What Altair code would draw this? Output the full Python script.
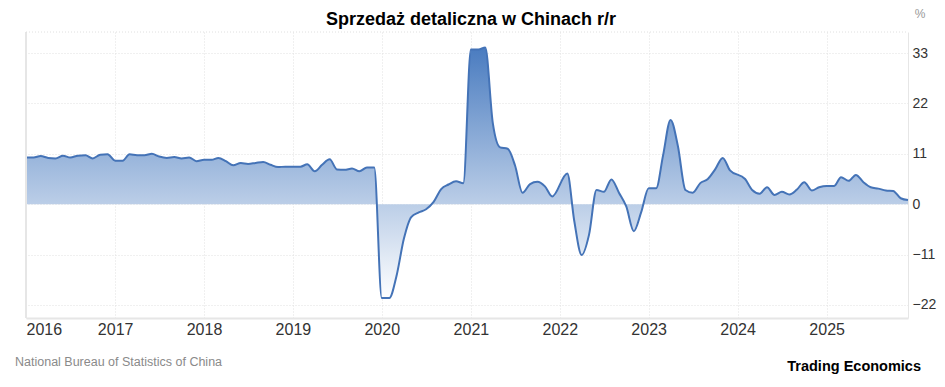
import altair as alt
import pandas as pd

TITLE = "Sprzedaż detaliczna w Chinach r/r"
SOURCE = "National Bureau of Statistics of China"
BRAND = "Trading Economics"
UNIT = "%"

years = list(range(2016, 2026))
# monthly values Jan..Dec (None = month not plotted)
v2016 = [10.2, 10.2, 10.5, 10.1, 10.0, 10.6, 10.2, 10.6, 10.7, 10.0, 10.8, 10.9]
v2017 = [9.5, 9.5, 10.9, 10.7, 10.7, 11.0, 10.4, 10.1, 10.3, 10.0, 10.2, 9.4]
v2018 = [9.7, 9.7, 10.1, 9.4, 8.5, 9.0, 8.8, 9.0, 9.2, 8.6, 8.1, 8.2]
v2019 = [8.2, 8.2, 8.7, 7.2, 8.6, 9.8, 7.6, 7.5, 7.8, 7.2, 8.0, 8.0]
v2020 = [-20.5, -20.5, -15.8, -7.5, -2.8, -1.8, -1.1, 0.5, 3.3, 4.3, 5.0, 4.6]
v2021 = [33.8, 33.8, 34.2, 17.7, 12.4, 12.1, 8.5, 2.5, 4.4, 4.9, 3.9, 1.7]
v2022 = [None, 6.7, -3.5, -11.1, -6.7, 3.1, 2.7, 5.4, 2.5, -0.5, -5.9, -1.8]
v2023 = [3.5, 3.5, 10.6, 18.4, 12.7, 3.1, 2.5, 4.6, 5.5, 7.6, 10.1, 7.4]
v2024 = [None, 5.5, 3.1, 2.3, 3.7, 2.0, 2.7, 2.1, 3.2, 4.8, 3.0, 3.7]
v2025 = [4.0, 4.0, 5.9, 5.1, 6.4, 4.8, 3.7, 3.4, 3.0, 2.9, 1.3, 0.9]
y_ticks = [-22, -11, 0, 11, 22, 33]

values = v2016 + v2017 + v2018 + v2019 + v2020 + v2021 + v2022 + v2023 + v2024 + v2025
dates = [f"{y}-{m:02d}-01" for y in years for m in range(1, 13)]
df = pd.DataFrame({"date": dates, "value": values}).dropna()

FONT = "Liberation Sans, Arial, sans-serif"
W, H = 882, 286
GRID = "#e0e0e0"

x = alt.X(
    "date:T",
    scale=alt.Scale(
        type="utc",
        domain=[alt.DateTime(year=2016, month=1, date=1, utc=True),
                alt.DateTime(year=2025, month=12, date=1, utc=True)],
    ),
    axis=alt.Axis(
        title=None, format="%Y",
        values=[alt.DateTime(year=y, month=1, date=1, utc=True) for y in years],
        grid=True, gridColor=GRID, gridDash=[1, 2], gridWidth=1,
        ticks=False, domainColor="#e6e6e6", domainWidth=2,
        labelFont=FONT, labelFontSize=16, labelColor="#333333",
        labelPadding=3, labelOverlap=False,
    ),
)
y = alt.Y(
    "value:Q",
    scale=alt.Scale(domain=[-24.85, 37.6], nice=False, zero=False),
    axis=alt.Axis(
        orient="right", values=y_ticks, title=None,
        grid=True, gridColor=GRID, gridDash=[1, 2], gridWidth=1,
        ticks=False, domain=True, domainColor="#e6e6e6", domainWidth=1,
        labelFont=FONT, labelFontSize=14, labelColor="#333333", labelPadding=4,
    ),
)

area = alt.Chart(df).mark_area(
    interpolate="monotone",
    color=alt.Gradient(
        gradient="linear",
        stops=[alt.GradientStop(color="#4a7cc0", offset=0),
               alt.GradientStop(color="#ffffff", offset=1)],
        x1=0, x2=0, y1=0, y2=1,
    ),
).encode(x=x, y=y, y2=alt.datum(0))

line = alt.Chart(df).mark_line(
    interpolate="monotone", color="#4473b7", strokeWidth=2
).encode(x="date:T", y="value:Q")

left_border = alt.Chart(pd.DataFrame({"k": [0]})).mark_rule(
    color="#e6e6e6", strokeWidth=2
).encode(x=alt.value(0), y=alt.value(0), y2=alt.value(H))

top_border = alt.Chart(pd.DataFrame({"k": [0]})).mark_rule(
    color=GRID, strokeWidth=1, strokeDash=[1, 2]
).encode(x=alt.value(0), x2=alt.value(W), y=alt.value(0))


def label(text, xpos, ypos, size, color, weight="normal", align="left", baseline="middle"):
    return alt.Chart(pd.DataFrame({"t": [text]})).mark_text(
        font=FONT, fontSize=size, color=color, fontWeight=weight,
        align=align, baseline=baseline,
    ).encode(text="t:N", x=alt.value(xpos), y=alt.value(ypos))


title = label(TITLE, 445, -7, 18, "#000000", "bold", "center", "alphabetic")
unit = label(UNIT, 894, -18, 12, "#999999", "normal", "center")
source = label(SOURCE, -11, 330, 12.5, "#8a8a8a")
brand = label(BRAND, 895, 335, 14.5, "#000000", "bold", "right")

chart = alt.layer(
    area, line, left_border, top_border, title, unit, source, brand
).properties(
    width=W, height=H,
    autosize=alt.AutoSizeParams(type="none"),
    padding={"left": 18, "top": 24, "right": 29, "bottom": 58},
).configure_view(stroke=None)

chart.save("out.html", embed_options={"renderer": "svg", "actions": False})
